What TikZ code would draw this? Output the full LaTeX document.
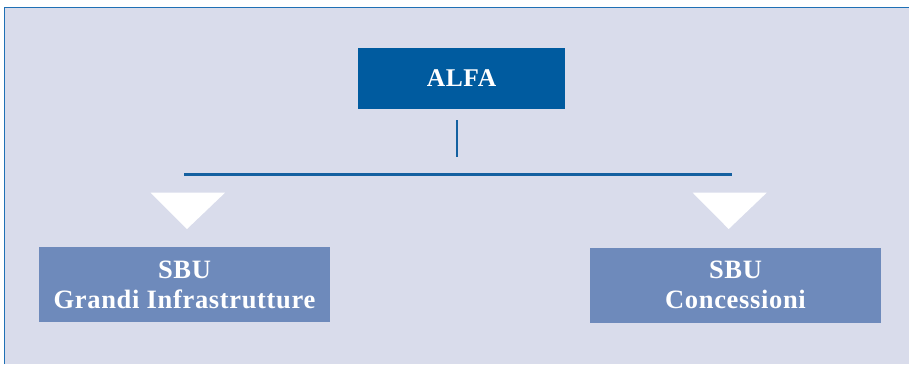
\documentclass[tikz,border=0pt]{standalone}
\usepackage{fontspec}
\setmainfont{Liberation Serif}[LetterSpace=2.5]
\definecolor{bgc}{HTML}{D9DCEB}
\definecolor{framec}{HTML}{1F70B5}
\definecolor{topc}{HTML}{005B9F}
\definecolor{linec}{HTML}{1460A0}
\definecolor{sbuc}{HTML}{6E8ABB}
\tikzset{
  topbox/.style={fill=topc, text=white, inner sep=0pt, minimum width=207pt, minimum height=61pt, font=\fontsize{25.5}{30}\selectfont\bfseries},
  sbubox/.style={fill=sbuc, text=white, inner sep=0pt, minimum width=291pt, minimum height=75pt, align=center, font=\fontsize{26.5}{30}\selectfont\bfseries},
  conn/.style={draw=linec, line width=2.4pt},
  tri/.style={fill=white}
}
\begin{document}
\begin{tikzpicture}[x=1pt,y=-1pt]
\useasboundingbox (0,0) rectangle (909,364);
\fill[bgc] (4.5,7.5) rectangle (909,364);
\draw[framec, line width=1.8pt] (4.5,364) -- (4.5,7.5) -- (909,7.5);
\node[topbox] (alfa) at (461.5,78.5) {ALFA};
\node[sbubox] (gi) at (184.5,284.5) {SBU\\Grandi Infrastrutture};
\node[sbubox] (co) at (735.5,285.3) {SBU\\Concessioni};
\coordinate (vtop) at (456.7,120);
\coordinate (vbot) at (456.7,157);
\coordinate (hl) at (184,174.3);
\coordinate (hr) at (732.3,174.3);
\draw[conn] (vtop) -- (vbot);
\draw[conn] (hl) -- (hr);
\fill[tri] (150.7,192.7) -- (225,192.7) -- (187,229) -- cycle;
\fill[tri] (692.7,192.7) -- (766.7,192.7) -- (728.7,229) -- cycle;
\end{tikzpicture}
\end{document}
